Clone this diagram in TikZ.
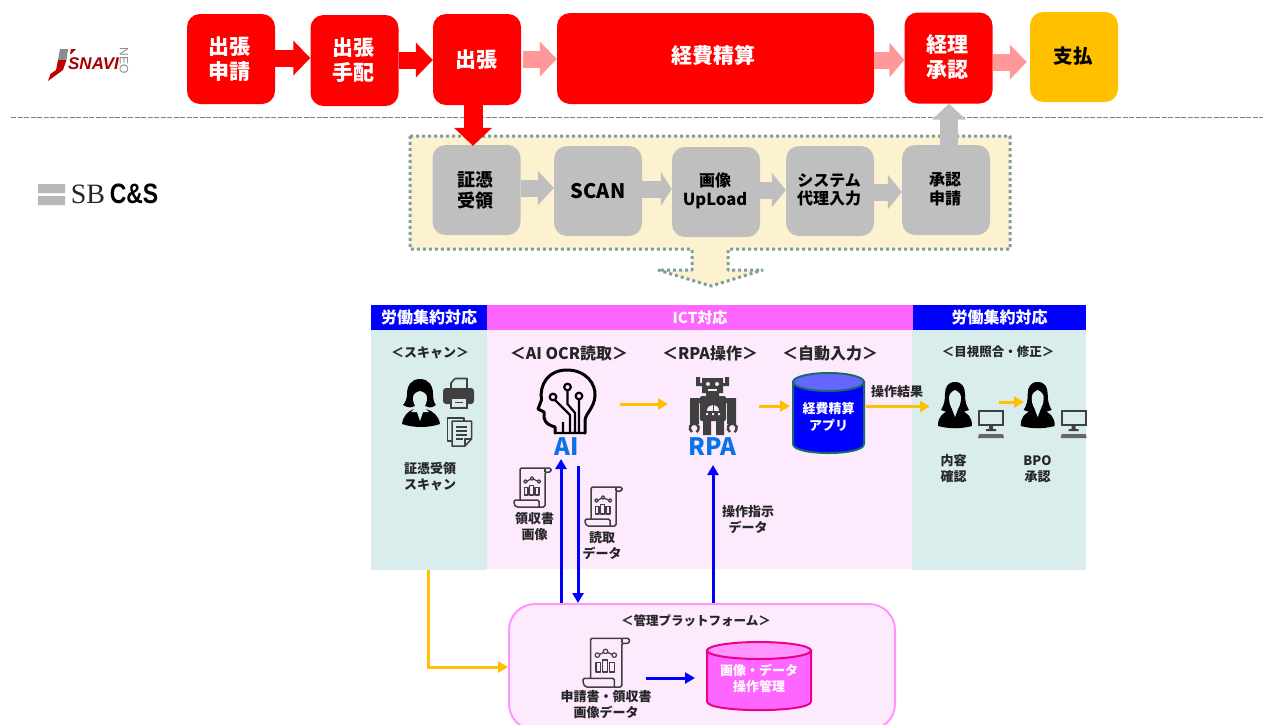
\documentclass[tikz,border=0pt]{standalone}
\usepackage{fontspec}
\setmainfont{Noto Sans CJK JP}
\newfontfamily\libsans{Liberation Sans}
\newfontfamily\libserif{Liberation Serif}
\usetikzlibrary{arrows.meta,calc}
\newcommand{\pxf}[2]{\fontsize{#1pt}{#2pt}\selectfont}
\definecolor{myred}{HTML}{FF0000}
\definecolor{mypink}{HTML}{FF9999}
\definecolor{mygold}{HTML}{FFC000}
\definecolor{mygray}{HTML}{BFBFBF}
\definecolor{mycream}{HTML}{FDF2D0}
\definecolor{mydots}{HTML}{7F9F9F}
\definecolor{myteal}{HTML}{DAEDED}
\definecolor{mylilac}{HTML}{FDEBFD}
\definecolor{mymag}{HTML}{FF66FF}
\definecolor{myblue}{HTML}{0000FF}
\definecolor{myicon}{HTML}{404040}
\definecolor{mylabel}{HTML}{0A72E8}
\tikzset{
  flowbox/.style={rounded corners=13pt,inner sep=0pt,minimum width=88pt,minimum height=90pt,align=center},
  redbox/.style={flowbox,fill=myred},
  redtext/.style={inner sep=0pt,align=center,text=white,font=\pxf{21}{25}\bfseries},
  graybox/.style={flowbox,fill=mygray,text=black,font=\pxf{16}{18.5}\bfseries},
  bigarrow/.style={line width=17pt,-{Triangle[length=#1,width=34pt]}},
  bigarrow/.default=17pt,
  thin arrow/.style={line width=3pt,-{Triangle[length=10pt,width=11pt]}},
  goldarrow/.style={thin arrow,draw=mygold},
  bluearrow/.style={thin arrow,draw=myblue},
  hdr/.style={inner sep=0pt,text=white,font=\pxf{16}{18}\bfseries},
  lab/.style={inner sep=0pt,align=center,text=black!85,font=\pxf{13}{16}\bfseries},
  lab wide/.style={inner sep=0pt,align=center,text=black!85,font=\pxf{12.5}{16}\bfseries},
  lab big/.style={inner sep=0pt,align=center,text=black!85,font=\pxf{16}{18}\bfseries},
  bluebig/.style={inner sep=0pt,text=mylabel,font=\pxf{24}{26}\bfseries},
  icon line/.style={draw=myicon,line width=1.5pt,line join=round},
}
\newcommand{\scrollicon}[3]{%
\begin{scope}[shift={(#1,#2)},scale=#3]
  \draw[icon line,rounded corners=1.5pt] (6,33) -- (6,1) -- (37,1) -- (37,5) -- (31,5) -- (31,40) -- (2,40) -- (0,37) -- (0,33) -- (25,33) -- (25,40);
  \draw[icon line] (31,1) -- (31,5);
  \draw[icon line,line width=1.3pt] (10.5,20.5) rectangle (14,28) (15.5,18.5) rectangle (19.5,28) (21,20.5) rectangle (25,28);
  \draw[icon line,line width=1.2pt] (11.5,14.5) circle[radius=1.8] (18,11.5) circle[radius=1.8] (25,14.5) circle[radius=1.8] (13.5,14) -- (16.3,12.3) (19.8,12.3) -- (23.2,14);
\end{scope}}
\newcommand{\personpc}[1]{%
\begin{scope}[xshift=#1pt]
  \fill[black] (955,382) .. controls (948,382) and (945,387) .. (945,394) .. controls (945,401) and (944,405) .. (941,410) -- (950,413) -- (960,413) -- (969,410) .. controls (966,405) and (965,401) .. (965,394) .. controls (965,387) and (962,382) .. (955,382) -- cycle;
  \fill[black] (938,426) .. controls (938,417) and (942,413) .. (950,410) -- (960,410) .. controls (968,413) and (972,417) .. (972,426) .. controls (960,429) and (950,429) .. (938,426) -- cycle;
  \fill[myteal] (955,390) .. controls (951,392) and (949,394) .. (949,398) .. controls (949,405) and (952,408) .. (952,409) -- (955,417) -- (958,409) .. controls (958,408) and (961,405) .. (961,398) .. controls (961,394) and (959,392) .. (955,390) -- cycle;
  \draw[myicon,line width=1.6pt,fill=myteal] (979,411) rectangle (1003,425);
  \fill[myicon] (989,425) rectangle (993,429) (986,429) rectangle (996,431);
  \fill[myicon!80!white] (979,434) -- (1003,434) -- (1004,438) -- (978,438) -- cycle;
\end{scope}}
\begin{document}
\begin{tikzpicture}[x=1pt,y=-1pt,line cap=butt]
\clip (0,0) rectangle (1263,724);
\fill[white] (0,0) rectangle (1263,724);

% logos
\fill[black!45] (60,49) -- (68,49) -- (66.5,60) -- (58,60) -- cycle;
\fill[red!75!black] (58,60) -- (66.5,60) -- (63,70) -- (48,81) -- (50.5,74) -- (56,70) -- cycle;
\fill[red!75!black] (71,49) -- (76,49) -- (71,54) -- (70,54) -- cycle;
\node[inner sep=0pt,text=red!65!black,font=\libsans\pxf{17}{18}\bfseries\itshape] (snavi) at (93.5,64) {SNAVI};
\node[inner sep=0pt,rotate=-90,text=black!45,font=\libsans\pxf{12}{13}] (neo) at (124,60.5) {NEO};
\fill[black!28] (38,184) rectangle (65,193) (38,196) rectangle (65,205);
\node[inner sep=0pt,text=black!85,font=\libserif\pxf{28}{30}] (sb) at (88,194) {SB};
\node[inner sep=0pt,xscale=.82,transform shape,text=black,font=\libsans\pxf{28}{30}\bfseries] (cs) at (134,194) {C\&S};

% dashed divider
\coordinate (divl) at (11,117.5);
\coordinate (divr) at (1263,117.5);
\draw[black!50,line width=1.6pt,dash pattern=on 5pt off 1.5pt] (divl) -- (divr);

% cream panel with down arrow
\draw[fill=mycream,draw=mydots,line width=3pt,line join=bevel,dash pattern=on 3pt off 3pt]
 (410,136) -- (1010,136) -- (1010,249) -- (728,249) -- (728,270) -- (763,270) -- (711,286) -- (658,270) -- (692,270) -- (692,249) -- (410,249) -- cycle;

% top flow
\node[redbox] (t1) at (231,59) {};
\node[redtext] (t1t) at (229,59.5) {出張\\申請};
\node[redbox,minimum height=91pt] (t2) at (354.5,60.5) {};
\node[redtext] (t2t) at (353,60.5) {出張\\手配};
\node[redbox,minimum height=91pt] (t3) at (477,59.5) {};
\node[redtext] (t3t) at (476.5,59.5) {出張};
\node[redbox,minimum width=317pt,minimum height=91pt] (t4) at (715.5,58.5) {};
\node[redtext] (t4t) at (713,55) {経費精算};
\node[redbox,minimum height=91pt] (t5) at (948.5,58) {};
\node[redtext] (t5t) at (947,57.5) {経理\\承認};
\node[flowbox,fill=mygold] (t6) at (1074,57) {};
\node[inner sep=0pt,text=black,font=\pxf{19.5}{24}\bfseries] (t6t) at (1073,56) {支払};

% gray flow
\node[graybox,font=\pxf{18}{21}\bfseries] (g1) at (476.5,190) {};
\node[inner sep=0pt,align=center,font=\pxf{18}{21}\bfseries] (g1t) at (475.5,190.5) {証憑\\受領};
\node[graybox,font=\pxf{20}{24}\bfseries] (g2) at (598,191) {SCAN};
\node[graybox] (g3) at (716,192) {};
\node[inner sep=0pt,align=center,font=\pxf{16}{19}\bfseries] (g3t) at (715,191) {画像\\{\pxf{16.5}{19}UpLoad}};
\node[graybox] (g4) at (830,191) {};
\node[inner sep=0pt,align=center,font=\pxf{16}{18.5}\bfseries] (g4t) at (829,190) {システム\\代理入力};
\node[graybox] (g5) at (946,190) {};
\node[inner sep=0pt,align=center,font=\pxf{16}{18.5}\bfseries] (g5t) at (945,189) {承認\\申請};

% arrows of the flows
\draw[bigarrow,draw=myred] (t1.east |- 0,58) -- (t2.west |- 0,58);
\draw[bigarrow,draw=myred] (t2.east |- 0,60) -- (t3.west |- 0,60);
\draw[bigarrow,draw=mypink] ([xshift=2pt]t3.east |- 0,59) -- (t4.west |- 0,59);
\draw[bigarrow=15pt,draw=mypink] (t4.east |- 0,60) -- (t5.west |- 0,60);
\draw[bigarrow,draw=mypink] (t5.east |- 0,62) -- ([xshift=-3pt]t6.west |- 0,62);
\draw[line width=19pt,draw=myred,-{Triangle[length=18pt,width=37pt]}] ([xshift=-4pt]t3.south) -- ([xshift=-3.5pt,yshift=-1pt]g1.north);
\draw[line width=17.5pt,draw=mygray,-{Triangle[length=16pt,width=33pt]}] ([xshift=3pt]g5.north) -- ([xshift=.5pt]t5.south);
\draw[bigarrow=16pt,draw=mygray] (g1.east |- 0,188) -- (g2.west |- 0,188);
\draw[bigarrow=11pt,draw=mygray] (g2.east |- 0,189) -- (g3.west |- 0,189);
\draw[bigarrow=14pt,draw=mygray] (g3.east |- 0,190) -- (g4.west |- 0,190);
\draw[bigarrow=14pt,draw=mygray] (g4.east |- 0,192) -- (g5.west |- 0,192);

% panels
\node[fill=myteal,inner sep=0pt,minimum width=116pt,minimum height=240pt] (pl) at (429,450) {};
\node[fill=mylilac,inner sep=0pt,minimum width=426pt,minimum height=239pt] (pm) at (700,449.5) {};
\node[fill=myteal,inner sep=0pt,minimum width=174pt,minimum height=240pt] (pr) at (999,450) {};
\node[hdr,fill=myblue,minimum width=116pt,minimum height=25pt] (hl) at (429,317.5) {労働集約対応};
\node[hdr,fill=mymag,minimum width=426pt,minimum height=25pt,font=\pxf{15}{18}\bfseries] (hm) at (700,317.5) {ICT対応};
\node[hdr,fill=myblue,minimum width=173pt,minimum height=25pt] (hr) at (999.5,317.5) {労働集約対応};

% platform
\node[draw=mymag!70!white,line width=2pt,fill=mylilac,rounded corners=26pt,inner sep=0pt,minimum width=386pt,minimum height=126pt] (plat) at (702,667) {};

% section captions
\node[lab] (c1) at (430,353) {＜スキャン＞};
\node[lab big] (c2) at (569,353) {＜AI OCR読取＞};
\node[lab big] (c3) at (710,353) {＜RPA操作＞};
\node[lab big] (c4) at (830,353) {＜自動入力＞};
\node[lab wide] (c5) at (998,352) {＜目視照合・修正＞};
\node[lab wide] (c6) at (696,621) {＜管理プラットフォーム＞};

% operator icon
\fill[black] (420,379) .. controls (411,379) and (407,386) .. (407,394) .. controls (407,399) and (405,403) .. (403,405) .. controls (408,408) and (412,408) .. (414,406) -- (426,406) .. controls (428,408) and (432,408) .. (436,405) .. controls (434,403) and (433,399) .. (433,394) .. controls (433,386) and (429,379) .. (420,379) -- cycle;
\fill[black] (402,424) .. controls (403,416) and (408,411) .. (414,409) -- (426,409) .. controls (433,411) and (439,416) .. (440,424) .. controls (428,428) and (414,428) .. (402,424) -- cycle;
\fill[myteal] (420,391) .. controls (416,392) and (413,394) .. (413,398) .. controls (413,403) and (415,406) .. (416,407) -- (411,412) -- (417,412) -- (420,421) -- (423,412) -- (429,412) -- (424,407) .. controls (425,406) and (427,403) .. (427,398) .. controls (427,394) and (424,392) .. (420,391) -- cycle;
% printer icon
\draw[icon line,line width=1.6pt] (455,378.5) -- (467,378.5) -- (467,390) (451,390) -- (451,383) -- (455,378.5);
\fill[myicon,rounded corners=3pt] (443,388) rectangle (474,404);
\draw[myicon,line width=1.6pt,fill=myteal] (451,398) rectangle (467,408);
\draw[myicon,line width=1pt] (455,402.5) -- (463,402.5);
% documents icon
\draw[icon line,line width=1.5pt,fill=myteal] (447.5,418) -- (464,418) -- (464,441) -- (447.5,441) -- cycle;
\draw[icon line,line width=1.5pt,fill=myteal] (452,421) -- (471.5,421) -- (471.5,439) -- (465,446) -- (452,446) -- cycle;
\draw[icon line,line width=1.2pt] (456,427) -- (467,427) (456,431) -- (467,431) (456,435) -- (467,435) (456,439) -- (463,439);
\draw[icon line,line width=1.2pt] (471.5,439) -- (465,439) -- (465,446);

% AI head icon
\draw[black,line width=3pt,line join=round,line cap=round] (555,433) -- (555,427) .. controls (549,425) and (546,424) .. (544,418) -- (544,412) -- (538,409) -- (541.5,400) .. controls (539,385) and (548,370) .. (567,370) .. controls (586,370) and (596,384) .. (595,396) .. controls (594,408) and (586,413) .. (585,420) -- (585,433);
\draw[black,line width=2.2pt,line join=round] (553,397) circle[radius=3.3] (567.5,387) circle[radius=3.3] (579,396) circle[radius=3.3];
\draw[black,line width=2.2pt,line join=round] (555,400) -- (570,415) -- (570,433) (567.5,390.3) -- (567.5,404) -- (575,413) -- (575,433) (579,399.3) -- (579,433) (555,433) -- (585,433) (563,422) -- (563,433);

% robot icon
\fill[myicon] (702,378) rectangle (723,393) (706,393) rectangle (719,397);
\fill[myicon] (696,377) rectangle (700,385) (696,383) rectangle (704,386) (725,377) rectangle (729,385) (721,383) rectangle (729,386);
\fill[myicon,rounded corners=2pt] (700,396) rectangle (726,421);
\fill[myicon] (703,421) rectangle (711,435) (716,421) rectangle (724,435);
\fill[myicon] (690,398) rectangle (699,424) (727,398) rectangle (736,424) (699,398) rectangle (701,403) (725,398) rectangle (727,403);
\draw[myicon,line width=2.4pt] (692,432) arc[start angle=120,end angle=420,radius=4.5];
\draw[myicon,line width=2.4pt] (730,432) arc[start angle=120,end angle=420,radius=4.5];
\fill[mylilac] (708,384) circle[radius=2] (717,384) circle[radius=2];
\fill[mylilac] (708,388.5) rectangle (717,390.5);
\fill[mylilac] (707,411) .. controls (707,403) and (719,403) .. (719,411) -- cycle;
\fill[myicon] (712.5,405) rectangle (713.5,411);
\fill[mylilac] (706,413) rectangle (708,415) (712,413) rectangle (714,415) (718,413) rectangle (720,415);

\node[bluebig] (ailbl) at (567,447) {AI};
\node[bluebig] (rpalbl) at (712,447) {RPA};

% application cylinder
\draw[draw=teal!70!black!90!white,line width=2pt,fill=myblue] (793,382) -- (793,444) .. controls (793,456) and (864,456) .. (864,444) -- (864,382) -- cycle;
\draw[draw=teal!70!black!90!white,line width=2pt,fill=blue!60!white] (828.5,382) ellipse[x radius=35.5,y radius=9];
\node[inner sep=0pt,align=center,text=white,font=\pxf{13}{17}\bfseries] (db) at (828.5,417) {経費精算\\アプリ};

% person icons
\personpc{0}
\personpc{82.7}

% labels
\node[lab] (l1) at (430,477) {証憑受領\\スキャン};
\scrollicon{514}{467}{1}
\node[lab] (l2) at (534.5,527) {領収書\\画像};
\scrollicon{585}{486}{1}
\node[lab] (l3) at (602,546) {読取\\データ};
\node[lab] (l4) at (748,520) {操作指示\\データ};
\node[lab] (l5) at (897,392) {操作結果};
\node[lab] (l6) at (953.5,469) {内容\\確認};
\node[lab] (l7) at (1037.5,469) {BPO\\承認};

% platform contents
\scrollicon{583}{637}{1.25}
\node[lab] (l8) at (606,704.5) {申請書・領収書\\画像データ};
\draw[draw=magenta,line width=2pt,fill=mymag] (707,650.5) -- (707,701.5) .. controls (707,713) and (811,713) .. (811,701.5) -- (811,650.5) -- cycle;
\draw[draw=magenta,line width=2pt,fill=mymag!70!white] (759,650.5) ellipse[x radius=52,y radius=8.5];
\node[inner sep=0pt,align=center,text=white,font=\pxf{13}{16}\bfseries] (pdb) at (759,678) {画像・データ\\操作管理};

% thin connectors
\coordinate (aiout) at (620,404);
\coordinate (rpain) at (668,404);
\coordinate (rpaout) at (759,406);
\coordinate (dbin) at (790,406);
\coordinate (dbout) at (866,406.5);
\coordinate (psnin) at (930,406.5);
\coordinate (psnout) at (998.5,402);
\coordinate (bpoin) at (1024,402);
\coordinate (aiup) at (561,459);
\coordinate (aidown) at (578,466);
\coordinate (rpaup) at (713,465);
\coordinate (scrollout) at (646,678);
\coordinate (pdbin) at (695,678);
\draw[goldarrow] (aiout) -- (rpain);
\draw[goldarrow] (rpaout) -- (dbin);
\draw[goldarrow] (dbout) -- (psnin);
\draw[goldarrow] (psnout) -- (bpoin);
\draw[goldarrow,line join=miter] ([xshift=-1pt]pl.south) |- (plat.west);
\draw[bluearrow] (plat.north -| aiup) -- (aiup);
\draw[bluearrow] (aidown) -- (plat.north -| aidown);
\draw[bluearrow] (plat.north -| rpaup) -- (rpaup);
\draw[bluearrow] (scrollout) -- (pdbin);
\end{tikzpicture}
\end{document}
